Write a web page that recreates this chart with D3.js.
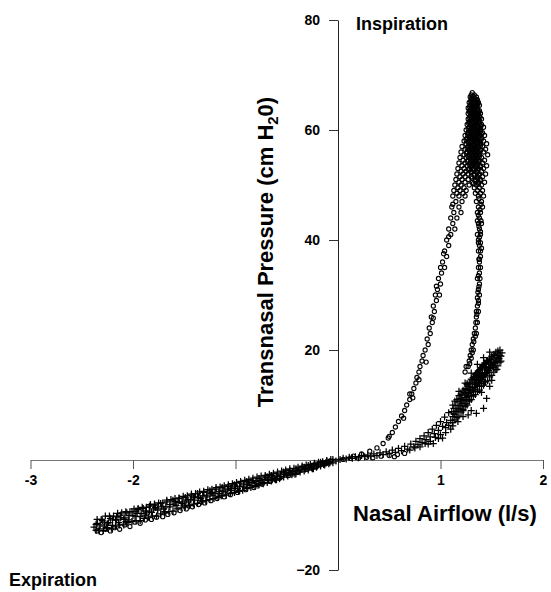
<!DOCTYPE html>
<html>
<head>
<meta charset="utf-8">
<script src="https://cdn.jsdelivr.net/npm/d3@7"></script>
<style>
  body { margin: 0; background: #fff; }
  text { font-family: "Liberation Sans", Arial, sans-serif; font-weight: bold; }
</style>
</head>
<body>
<div id="chart"></div>
<script>
// tick values
var xTicks = [-3, -2, -1, 1, 2];
var xLabels = ["-3", "-2", "", "1", "2"];
var yTicks = [-20, 20, 40, 60, 80];

// open circles: top of the inspiration loop (flow l/s, pressure cm H2O)
var loopTop = [
  [1.31,66.8],[1.30,66.4],[1.33,66.4],[1.29,66],[1.32,66],[1.35,66],
  [1.30,65.5],[1.33,65.5],[1.36,65.5],[1.28,65],[1.31,65],[1.34,65],[1.37,65],
  [1.29,64.5],[1.32,64.5],[1.35,64.5],[1.38,64.5],[1.27,64],[1.30,64],[1.33,64],[1.36,64],
  [1.28,63.5],[1.31,63.5],[1.34,63.5],[1.38,63.5],[1.27,63],[1.30,63],[1.33,63],[1.36,63],[1.39,63],
  [1.29,62.5],[1.32,62.5],[1.35,62.5],[1.38,62.5],[1.27,62],[1.30,62],[1.34,62],[1.37,62],[1.40,62],
  [1.28,61.5],[1.31,61.5],[1.35,61.5],[1.38,61.5],[1.26,61],[1.29,61],[1.33,61],[1.36,61],[1.40,61],
  [1.28,60.5],[1.31,60.5],[1.34,60.5],[1.38,60.5],[1.42,60.5],[1.25,60],[1.29,60],[1.32,60],[1.36,60],[1.39,60],
  [1.27,59.5],[1.30,59.5],[1.34,59.5],[1.37,59.5],[1.41,59.5],[1.24,59],[1.28,59],[1.31,59],[1.35,59],[1.38,59],[1.43,59],
  [1.26,58.5],[1.30,58.5],[1.33,58.5],[1.36,58.5],[1.40,58.5],[1.23,58],[1.27,58],[1.31,58],[1.34,58],[1.38,58],[1.42,58],
  [1.25,57.5],[1.29,57.5],[1.32,57.5],[1.36,57.5],[1.39,57.5],[1.45,57.5],[1.21,57],[1.27,57],[1.30,57],[1.34,57],[1.37,57],[1.41,57],
  [1.24,56.5],[1.28,56.5],[1.32,56.5],[1.35,56.5],[1.39,56.5],[1.44,56.5],[1.20,56],[1.26,56],[1.30,56],[1.33,56],[1.37,56],[1.42,56],
  [1.23,55.5],[1.28,55.5],[1.31,55.5],[1.35,55.5],[1.38,55.5],[1.46,55.5],[1.19,55],[1.25,55],[1.29,55],[1.33,55],[1.36,55],[1.40,55],
  [1.22,54.5],[1.27,54.5],[1.31,54.5],[1.34,54.5],[1.38,54.5],[1.43,54.5],[1.18,54],[1.24,54],[1.29,54],[1.32,54],[1.36,54],[1.41,54],
  [1.21,53.5],[1.26,53.5],[1.30,53.5],[1.34,53.5],[1.39,53.5],[1.45,53.5],[1.17,53],[1.23,53],[1.28,53],[1.32,53],[1.37,53],[1.42,53],
  [1.20,52.5],[1.25,52.5],[1.30,52.5],[1.35,52.5],[1.40,52.5],[1.16,52],[1.22,52],[1.27,52],[1.33,52],[1.38,52],[1.44,52],
  [1.19,51.5],[1.24,51.5],[1.30,51.5],[1.36,51.5],[1.41,51.5],[1.15,51],[1.21,51],[1.27,51],[1.34,51],[1.39,51],
  [1.18,50.5],[1.24,50.5],[1.31,50.5],[1.37,50.5],[1.43,50.5],[1.14,50],[1.20,50],[1.28,50],[1.35,50],[1.40,50],
  [1.17,49.5],[1.23,49.5],[1.33,49.5],[1.38,49.5],[1.13,49],[1.19,49],[1.25,49],[1.36,49],[1.41,49],
  [1.16,48.5],[1.22,48.5],[1.34,48.5],[1.39,48.5],[1.12,48],[1.18,48],[1.24,48],[1.37,48],[1.42,48]
];

// open circles: dense core of the loop peak and its right arm
var loopCore = [
  [1.315,66.2],[1.305,65.75],[1.335,65.75],[1.295,65.25],[1.325,65.25],[1.355,65.25],
  [1.305,64.75],[1.335,64.75],[1.365,64.75],[1.285,64.25],[1.315,64.25],[1.345,64.25],
  [1.295,63.75],[1.325,63.75],[1.36,63.75],[1.285,63.25],[1.315,63.25],[1.345,63.25],[1.375,63.25],
  [1.30,62.75],[1.335,62.75],[1.365,62.75],[1.285,62.25],[1.32,62.25],[1.355,62.25],[1.385,62.25],
  [1.295,61.75],[1.33,61.75],[1.365,61.75],[1.275,61.25],[1.31,61.25],[1.345,61.25],[1.38,61.25],
  [1.295,60.75],[1.325,60.75],[1.36,60.75],[1.395,60.75],[1.27,60.25],[1.305,60.25],[1.34,60.25],[1.375,60.25],
  [1.285,59.75],[1.32,59.75],[1.355,59.75],[1.39,59.75],[1.265,59.25],[1.295,59.25],[1.33,59.25],[1.365,59.25],[1.40,59.25],
  [1.28,58.75],[1.315,58.75],[1.345,58.75],[1.38,58.75],[1.25,58.25],[1.29,58.25],[1.325,58.25],[1.36,58.25],[1.395,58.25],
  [1.27,57.75],[1.305,57.75],[1.34,57.75],[1.375,57.75],[1.285,57.25],[1.32,57.25],[1.355,57.25],[1.39,57.25],
  [1.26,56.75],[1.30,56.75],[1.335,56.75],[1.37,56.75],[1.28,56.25],[1.315,56.25],[1.35,56.25],[1.39,56.25],
  [1.255,55.75],[1.295,55.75],[1.33,55.75],[1.365,55.75],[1.27,55.25],[1.31,55.25],[1.345,55.25],[1.38,55.25],
  [1.29,54.75],[1.325,54.75],[1.36,54.75],[1.265,54.25],[1.305,54.25],[1.34,54.25],[1.375,54.25],
  [1.285,53.75],[1.32,53.75],[1.355,53.75],[1.30,53.25],[1.345,53.25],[1.39,53.25],
  [1.275,52.75],[1.32,52.75],[1.365,52.75],[1.30,52.25],[1.355,52.25],[1.33,51.75],[1.375,51.75],
  [1.31,51.25],[1.36,51.25],[1.34,50.75],[1.39,50.75],[1.32,50.25],[1.37,50.25],
  [1.375,47.5],[1.395,46.5],[1.385,45.5],[1.37,44.5],[1.395,43.5],[1.375,42.5],[1.39,41.5],
  [1.38,40.5],[1.37,39.5],[1.39,38],[1.375,36.5],[1.385,33],[1.375,31.5],[1.365,30.5],
  [1.37,28.5],[1.355,26.5],[1.345,25],[1.34,22.5],[1.325,21.5],[1.31,19.5],[1.30,18.5],[1.285,17.5]
];

// open circles: the two arms of the loop below the top cluster
var loopArms = [
  [1.15,47],[1.21,47],[1.35,47],[1.40,47],[1.11,46],[1.18,46],[1.37,46],[1.41,46],
  [1.13,45],[1.20,45],[1.36,45],[1.39,45],[1.10,44],[1.16,44],[1.38,44],[1.36,43.5],
  [1.12,43],[1.37,43],[1.40,43],[1.08,42],[1.14,42],[1.38,42],[1.10,41],[1.36,41],[1.39,41],
  [1.06,40],[1.37,40],[1.39,39.5],[1.08,39],[1.38,39],[1.40,38.5],[1.04,38],[1.37,38],
  [1.06,37],[1.39,37],[1.38,36.5],[1.02,36],[1.38,36],[1.00,35],[1.04,35],[1.37,35],[1.39,35],
  [1.01,34],[1.38,34],[1.37,33.5],[0.98,33],[1.36,33],[1.00,32],[1.38,32],[0.97,31],[1.37,31],
  [0.95,30],[0.99,30],[1.38,30],[1.36,29.5],[0.96,29],[1.37,29],[0.93,28],[1.36,28],
  [0.94,27],[1.37,27],[1.35,27],[0.91,26],[1.35,26],[0.92,25],[1.36,25],[0.89,24],[1.34,24],
  [0.90,23],[1.33,23],[1.35,23],[0.87,22],[1.32,22],[0.88,21],[1.31,21],
  [0.85,20],[1.30,20],[1.32,20],[0.83,19],[1.29,19],[0.82,18],[1.28,18],
  [0.80,17],[1.27,17],[1.25,17],[0.79,16],[1.24,16],[0.77,15],[0.76,14],[0.74,13],
  [0.72,12],[0.70,12],[0.70,11],[0.67,10],[0.65,9],[0.62,8],[0.59,7],[0.56,6],
  [0.53,5],[0.49,4],[0.44,3],[0.38,2.2],[0.31,1.6],[0.23,1.1],[0.15,0.7],
  [0.86,17.8],[0.79,14.6],[0.73,11.3],[0.64,7.6],[0.50,4.3],[0.93,25.8],
  [0.96,31.6],[1.03,37.5],[1.08,40.6],[1.12,46.5]
];

// open circles: low-flow points near the origin and lower edge of expiration band
var lowCircles = [
  [0.05,0.1],[0.12,0.3],[0.20,0.3],[0.28,0.5],[0.34,0.4],[0.42,0.7],[0.50,0.8],
  [0.55,0.6],[0.58,1.0],[0.65,1.2],
  [-2.35,-12.9],[-2.31,-13.2],[-2.27,-12.6],[-2.22,-12.9],[-2.18,-12.3],[-2.13,-12.6],
  [-2.08,-11.8],[-2.03,-12.1],[-1.98,-11.3],[-1.93,-11.5],[-1.88,-10.9],[-1.82,-10.8],
  [-1.77,-10.4],[-1.71,-10.3],[-1.66,-9.9],[-1.60,-9.6],[-1.54,-9.2],[-1.48,-8.9],
  [-1.42,-8.5],[-1.36,-8.1],[-1.30,-7.8],[-1.24,-7.4],[-1.18,-7.0],[-1.11,-6.7],
  [-1.05,-6.3],[-0.98,-5.9],[-0.90,-5.4],[-0.82,-5.0],[-0.74,-4.4],[-0.66,-3.9],
  [-0.57,-3.3],[-0.48,-2.8],[-0.39,-2.2],[-0.30,-1.7],[-0.21,-1.2],[-0.12,-0.7]
];

// plus marks: expiration band
var expPlus = [
  [-2.38,-12.2],[-2.35,-11.5],[-2.33,-12.5],[-2.30,-11.0],[-2.28,-12.0],[-2.25,-11.6],
  [-2.22,-10.6],[-2.20,-11.9],[-2.17,-10.9],[-2.14,-11.4],[-2.12,-10.0],[-2.09,-10.8],
  [-2.06,-9.6],[-2.04,-10.9],[-2.01,-9.4],[-1.98,-10.2],[-1.95,-9.0],[-1.93,-10.3],
  [-1.90,-8.8],[-1.87,-9.6],[-1.84,-8.4],[-1.82,-9.5],[-1.79,-8.2],[-1.76,-9.1],
  [-1.73,-7.9],[-1.70,-8.9],[-1.67,-7.6],[-1.64,-8.5],[-1.61,-7.3],[-1.58,-8.3],
  [-1.55,-7.0],[-1.52,-7.9],[-1.49,-6.8],[-1.46,-7.6],[-1.43,-6.4],[-1.40,-7.3],
  [-1.37,-6.1],[-1.34,-7.0],[-1.31,-5.9],[-1.28,-6.7],[-1.25,-5.6],[-1.22,-6.4],
  [-1.19,-5.3],[-1.16,-6.1],[-1.13,-5.0],[-1.10,-5.8],[-1.07,-4.8],[-1.04,-5.5],
  [-1.01,-4.5],[-0.98,-5.2],[-0.95,-4.2],[-0.92,-4.9],[-0.89,-3.9],[-0.86,-4.6],
  [-0.83,-3.7],[-0.80,-4.3],[-0.77,-3.4],[-0.74,-4.0],[-0.71,-3.1],[-0.68,-3.7],
  [-0.65,-2.8],[-0.62,-3.4],[-0.59,-2.5],[-0.56,-3.0],[-0.53,-2.2],[-0.50,-2.7],
  [-0.47,-1.9],[-0.44,-2.4],[-0.41,-1.6],[-0.38,-2.0],[-0.35,-1.3],[-0.32,-1.7],
  [-0.29,-1.0],[-0.26,-1.4],[-0.23,-0.7],[-0.20,-1.1],[-0.17,-0.4],[-0.14,-0.8],
  [-0.11,-0.2],[-0.08,-0.5],[-0.05,0.1],[-0.02,-0.2],
  [-2.36,-12.8],[-2.26,-12.3],[-2.16,-10.3],[-2.07,-11.2],[-1.97,-9.3],[-1.88,-10.0],
  [-1.78,-8.6],[-1.69,-9.4],[-1.59,-7.5],[-1.50,-8.2],[-1.41,-6.7],[-1.32,-7.4],
  [-1.23,-5.9],[-1.14,-6.5],[-1.05,-5.1],[-0.96,-5.6],[-0.87,-4.0],[-0.78,-4.6],
  [-0.69,-3.1],[-0.60,-3.6],[-0.51,-2.2],[-0.42,-2.6],[-0.33,-1.3],[-0.24,-1.6],[-0.15,-0.5]
];

// plus marks: second pass through the expiration band (middle, upper, lower edge)
var expPlus2 = [
  [-2.36,-11.7],[-2.35,-10.8],[-2.33,-12.9],[-2.32,-11.8],[-2.31,-10.8],[-2.29,-12.8],
  [-2.28,-11.3],[-2.27,-10.2],[-2.25,-12.4],[-2.24,-11.4],[-2.23,-10.2],[-2.21,-12.4],
  [-2.20,-10.9],[-2.19,-10.2],[-2.17,-12.0],[-2.16,-10.9],[-2.15,-9.7],[-2.13,-11.8],
  [-2.12,-10.5],[-2.11,-9.6],[-2.09,-11.8],[-2.08,-10.5],[-2.07,-9.4],[-2.05,-11.4],
  [-2.04,-10.1],[-2.03,-9.4],[-2.01,-11.2],[-2.00,-10.1],[-1.99,-8.9],[-1.97,-11.0],
  [-1.96,-9.7],[-1.95,-8.8],[-1.93,-11.0],[-1.92,-9.7],[-1.91,-8.6],[-1.89,-10.6],
  [-1.88,-9.3],[-1.87,-8.6],[-1.85,-10.4],[-1.84,-9.3],[-1.83,-8.1],[-1.81,-10.2],
  [-1.80,-8.9],[-1.79,-8.0],[-1.77,-10.2],[-1.76,-8.9],[-1.75,-7.8],[-1.73,-9.8],
  [-1.72,-8.5],[-1.71,-7.8],[-1.69,-9.6],[-1.68,-8.5],[-1.67,-7.3],[-1.65,-9.4],
  [-1.64,-8.1],[-1.63,-7.2],[-1.61,-9.3],[-1.60,-8.0],[-1.59,-7.0],[-1.57,-8.9],
  [-1.56,-7.7],[-1.55,-6.9],[-1.53,-8.7],[-1.52,-7.6],[-1.51,-6.6],[-1.49,-8.5],
  [-1.48,-7.3],[-1.47,-6.5],[-1.45,-8.3],[-1.44,-7.2],[-1.43,-6.2],[-1.41,-8.0],
  [-1.40,-6.9],[-1.39,-6.1],[-1.37,-7.9],[-1.36,-6.8],[-1.35,-5.8],[-1.33,-7.6],
  [-1.32,-6.5],[-1.31,-5.7],[-1.29,-7.4],[-1.28,-6.4],[-1.27,-5.4],[-1.25,-7.2],
  [-1.24,-6.1],[-1.23,-5.3],[-1.21,-7.0],[-1.20,-6.0],[-1.19,-5.0],[-1.17,-6.8],
  [-1.16,-5.7],[-1.15,-4.9],[-1.13,-6.5],[-1.12,-5.6],[-1.11,-4.7],[-1.09,-6.4],
  [-1.08,-5.3],[-1.07,-4.5],[-1.05,-6.1],[-1.04,-5.2],[-1.03,-4.3],[-1.01,-5.9],
  [-1.00,-4.9],[-0.99,-4.1],[-0.97,-5.7],[-0.96,-4.8],[-0.95,-3.9],[-0.93,-5.5],
  [-0.92,-4.5],[-0.91,-3.7],[-0.89,-5.2],[-0.88,-4.4],[-0.87,-3.5],[-0.85,-5.0],
  [-0.84,-4.1],[-0.83,-3.3],[-0.81,-4.8],[-0.80,-3.9],[-0.79,-3.1],[-0.77,-4.5],
  [-0.76,-3.7],[-0.75,-2.9],[-0.73,-4.3],[-0.72,-3.5],[-0.71,-2.8],[-0.69,-4.1],
  [-0.68,-3.3],[-0.67,-2.6],[-0.65,-3.8],[-0.64,-3.1],[-0.63,-2.4],[-0.61,-3.6],
  [-0.60,-2.9],[-0.59,-2.2],[-0.57,-3.4],[-0.56,-2.7],[-0.55,-2.0],[-0.53,-3.1],
  [-0.52,-2.5],[-0.51,-1.8],[-0.49,-2.9],[-0.48,-2.3],[-0.47,-1.6],[-0.45,-2.7],
  [-0.44,-2.1],[-0.43,-1.5],[-0.41,-2.5],[-0.40,-1.9],[-0.39,-1.3],[-0.37,-2.2],
  [-0.36,-1.7],[-0.35,-1.1],[-0.33,-2.0],[-0.32,-1.5],[-0.31,-0.9],[-0.29,-1.8],
  [-0.28,-1.3],[-0.27,-0.8],[-0.25,-1.6],[-0.24,-1.1],[-0.23,-0.6],[-0.21,-1.3],
  [-0.20,-0.9],[-0.19,-0.4],[-0.17,-1.1],[-0.16,-0.7],[-0.15,-0.3],[-0.13,-0.9],
  [-0.12,-0.5],[-0.11,-0.1],[-0.09,-0.7],[-0.08,-0.3],[-0.07,0.1],[-0.05,-0.5]
];

// plus marks: inspiration limb up to the end-inspiratory cloud
var inspPlus = [
  [0.02,0.1],[0.05,0.3],[0.08,0.2],[0.11,0.5],[0.14,0.3],[0.17,0.6],[0.20,0.4],
  [0.23,0.8],[0.26,0.6],[0.29,0.9],[0.32,0.7],[0.35,1.1],[0.38,0.8],[0.41,1.3],
  [0.44,1.0],[0.47,1.5],[0.50,1.2],[0.53,1.8],[0.56,1.4],[0.59,2.1],[0.62,1.7],
  [0.65,2.5],[0.68,2.0],[0.71,2.9],[0.74,2.4],[0.76,3.4],[0.78,2.8],[0.80,3.9],
  [0.82,3.2],[0.84,4.4],[0.86,3.7],[0.88,5.0],[0.90,4.2],[0.92,5.6],[0.94,4.8],
  [0.96,6.3],[0.98,5.4],[1.00,7.0],[1.02,6.1],[1.04,7.8],[1.06,6.8],[1.08,8.6],
  [1.10,7.2],[1.11,8.8],[1.12,7.9],[1.13,9.4],[1.14,8.3],[1.15,9.9],[1.16,8.9],
  [1.17,10.6],[1.18,9.4],[1.19,11.2],[1.20,10.0],[1.21,11.8],[1.22,9.2],[1.22,10.8],
  [1.23,12.3],[1.24,11.0],[1.25,12.9],[1.25,10.2],[1.26,11.6],[1.27,13.4],[1.27,12.1],
  [1.28,10.9],[1.29,14.0],[1.29,12.6],[1.30,11.7],[1.31,13.2],[1.31,14.6],[1.32,12.4],
  [1.33,13.8],[1.33,15.1],[1.34,12.9],[1.35,14.4],[1.35,15.7],[1.36,13.5],[1.37,14.9],
  [1.37,16.2],[1.38,13.9],[1.39,15.4],[1.39,16.7],[1.40,14.6],[1.41,15.9],[1.41,17.1],
  [1.42,15.1],[1.43,16.4],[1.43,17.6],[1.44,15.7],[1.45,16.9],[1.45,18.0],[1.46,16.2],
  [1.47,17.4],[1.48,18.3],[1.48,16.6],[1.49,17.8],[1.50,18.7],[1.51,17.2],[1.52,18.2],
  [1.53,19.0],[1.54,17.8],[1.55,18.6],[1.56,19.3],[1.57,18.4],[1.58,19.0],[1.60,19.5],
  [1.59,18.0],
  [1.22,7.9],[1.30,9.0],[1.35,8.5],[1.42,9.4],[1.45,11.2],[1.50,14.5],[1.40,12.3],
  [1.27,8.2],[1.17,7.0],[1.05,5.0],[0.98,3.9],[1.12,6.2],[1.55,16.5],[1.48,13.4],
  [1.18,12.5],[1.24,14.0],[1.30,15.8],[1.36,17.4],[1.42,18.6],[1.48,19.6],
  [1.26,13.9],[1.32,15.0],[1.38,16.0],[1.44,17.0],[1.50,17.5],[1.34,14.1],[1.40,15.2],
  [1.46,15.9],[1.28,12.8],[1.36,15.0],[1.43,14.2],[1.52,16.8],[1.20,11.0],[1.24,12.2],
  [0.70,1.8],[0.75,2.2],[0.80,2.4],[0.85,3.0],[0.90,3.4],[0.95,4.1],[1.00,4.6],
  [1.05,5.9],[1.08,6.3],[0.88,2.9],[0.93,3.0],[1.02,4.0],[1.10,5.6]
];

// plus marks: second pass through the end-inspiratory cloud
var inspPlus2 = [
  [1.12,10.0],[1.13,8.4],[1.12,6.8],[1.14,10.7],[1.15,8.8],[1.14,7.3],
  [1.16,11.0],[1.17,9.3],[1.16,7.7],[1.18,11.7],[1.19,9.9],[1.18,8.0],
  [1.20,12.0],[1.21,10.3],[1.20,8.7],[1.22,12.7],[1.23,10.8],[1.22,9.0],
  [1.24,13.0],[1.25,11.4],[1.24,9.7],[1.26,13.7],[1.27,11.8],[1.26,10.0],
  [1.28,14.0],[1.29,12.3],[1.28,10.7],[1.30,14.7],[1.31,12.9],[1.30,11.0],
  [1.32,15.0],[1.33,13.2],[1.32,11.6],[1.34,15.6],[1.35,13.8],[1.34,11.9],
  [1.36,15.9],[1.37,14.1],[1.36,12.5],[1.38,16.4],[1.39,14.6],[1.38,12.7],
  [1.40,16.8],[1.41,15.0],[1.40,13.4],[1.42,17.3],[1.43,15.5],[1.42,13.6],
  [1.44,17.6],[1.45,15.8],[1.44,14.2],[1.46,18.1],[1.47,16.3],[1.46,14.4],
  [1.48,18.4],[1.49,16.8],[1.48,15.1],[1.50,18.9],[1.51,17.1],[1.50,15.4],
  [1.52,19.2],[1.53,17.6],[1.52,16.0],[1.54,19.6],[1.55,18.0],[1.54,16.4],
  [1.56,19.8],[1.57,18.5],[1.56,17.1],[1.58,20.0],[1.59,18.9],[1.58,17.8]
];

var w = 551, h = 592;

var svg = d3.select("#chart")
  .append("svg")
  .attr("width", w)
  .attr("height", h);

var x = d3.scaleLinear().domain([-3, 2]).range([30.5, 543]);
var y = d3.scaleLinear().domain([-20, 80]).range([570, 20]);

// x axis through zero pressure
var xAxis = svg.append("g")
  .attr("transform", "translate(0," + y(0) + ")")
  .call(d3.axisBottom(x)
    .tickValues(xTicks)
    .tickFormat(function(d, i) { return xLabels[i]; })
    .tickSize(9)
    .tickSizeOuter(0)
    .tickPadding(6));

// y axis through zero flow
var yAxis = svg.append("g")
  .attr("transform", "translate(" + x(0) + ",0)")
  .call(d3.axisLeft(y)
    .tickValues(yTicks)
    .tickSize(9)
    .tickSizeOuter(0)
    .tickPadding(9));

xAxis.select(".domain").attr("stroke", "#777");
xAxis.selectAll(".tick line").attr("stroke", "#555");
yAxis.select(".domain").attr("stroke", "#222");
yAxis.selectAll(".tick line").attr("stroke", "#333");
svg.selectAll(".tick text")
  .attr("font-family", "Liberation Sans, Arial, sans-serif")
  .attr("font-weight", "bold")
  .attr("font-size", "14px")
  .attr("fill", "#000");

var circles = loopTop.concat(loopCore, loopArms, lowCircles);

svg.append("g").selectAll("circle")
  .data(circles)
  .enter()
  .append("circle")
  .attr("cx", function(d) { return x(d[0]); })
  .attr("cy", function(d) { return y(d[1]); })
  .attr("r", 2.1)
  .attr("fill", "none")
  .attr("stroke", "#000")
  .attr("stroke-width", 1.1);

var pluses = expPlus.concat(expPlus2, inspPlus, inspPlus2);

svg.append("g").selectAll("path")
  .data(pluses)
  .enter()
  .append("path")
  .attr("transform", function(d) {
    return "translate(" + x(d[0]) + "," + y(d[1]) + ")";
  })
  .attr("d", "M-3.5,0H3.5M0,-3.5V3.5")
  .attr("stroke", "#000")
  .attr("stroke-width", 1.25);

// titles
svg.append("text")
  .attr("x", 353)
  .attr("y", 521)
  .attr("font-size", "22px")
  .text("Nasal Airflow (l/s)");

var yt = svg.append("text")
  .attr("transform", "translate(273,252) rotate(-90)")
  .attr("text-anchor", "middle")
  .attr("font-size", "22px");
yt.append("tspan").text("Transnasal Pressure (cm H");
yt.append("tspan").attr("font-size", "15px").attr("dy", 5).text("2");
yt.append("tspan").attr("dy", -5).text("0)");

svg.append("text")
  .attr("x", 356)
  .attr("y", 30)
  .attr("font-size", "18px")
  .text("Inspiration");

svg.append("text")
  .attr("x", 9)
  .attr("y", 586)
  .attr("font-size", "18px")
  .text("Expiration");
</script>
</body>
</html>
